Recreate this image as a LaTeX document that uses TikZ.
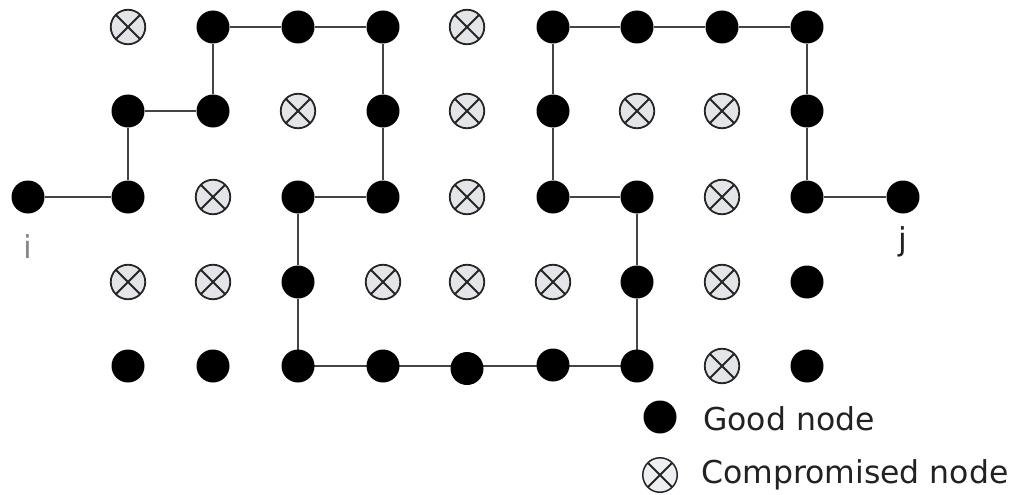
\documentclass[tikz,border=0pt]{standalone}
\usepackage{fontspec}
\setmainfont{DejaVu Sans}
\usetikzlibrary{backgrounds}
\definecolor{edgecol}{HTML}{444444}
\definecolor{xfill}{HTML}{E3E5E9}
\definecolor{lblgray}{HTML}{888888}
\definecolor{txtcol}{HTML}{222222}
\begin{document}
\begin{tikzpicture}[x=1pt,y=-1pt,
  good/.style={circle,fill=black,draw=none,minimum size=33pt,inner sep=0pt},
  bad/.style={circle,fill=xfill,draw=black!85,line width=1.8pt,minimum size=34.5pt,inner sep=0pt,
    path picture={\draw[black!85,line width=1.8pt]
      (path picture bounding box.north west) -- (path picture bounding box.south east)
      (path picture bounding box.north east) -- (path picture bounding box.south west);}},
  link/.style={draw=edgecol,line width=2.5pt},
  lbl/.style={font=\fontsize{31.5}{38}\selectfont,inner sep=0pt}]
\useasboundingbox (0,0) rectangle (1018,495);
% row 1
\node[bad]  (a1) at (128,27) {};
\node[good] (b1) at (213,27) {};
\node[good] (c1) at (298,27) {};
\node[good] (d1) at (383,27) {};
\node[bad]  (e1) at (467,27) {};
\node[good] (f1) at (553,27) {};
\node[good] (g1) at (637,27) {};
\node[good] (h1) at (722,27) {};
\node[good] (k1) at (807,27) {};
% row 2
\node[good] (a2) at (128,111) {};
\node[good] (b2) at (213,111) {};
\node[bad]  (c2) at (298,111) {};
\node[good] (d2) at (383,111) {};
\node[bad]  (e2) at (467,111) {};
\node[good] (f2) at (553,111) {};
\node[bad]  (g2) at (637,111) {};
\node[bad]  (h2) at (722,111) {};
\node[good] (k2) at (807,111) {};
% row 3
\node[good] (ni) at (28,197) {};
\node[good] (a3) at (128,197) {};
\node[bad]  (b3) at (213,197) {};
\node[good] (c3) at (298,197) {};
\node[good] (d3) at (383,197) {};
\node[bad]  (e3) at (467,197) {};
\node[good] (f3) at (553,197) {};
\node[good] (g3) at (637,197) {};
\node[bad]  (h3) at (722,197) {};
\node[good] (k3) at (807,197) {};
\node[good] (nj) at (903,197) {};
% row 4
\node[bad]  (a4) at (128,282) {};
\node[bad]  (b4) at (213,282) {};
\node[good] (c4) at (298,282) {};
\node[bad]  (d4) at (383,282) {};
\node[bad]  (e4) at (467,282) {};
\node[bad]  (f4) at (553,282) {};
\node[good] (g4) at (637,282) {};
\node[bad]  (h4) at (722,282) {};
\node[good] (k4) at (807,282) {};
% row 5
\node[good] (a5) at (128,366) {};
\node[good] (b5) at (213,366) {};
\node[good] (c5) at (298,366) {};
\node[good] (d5) at (383,366) {};
\node[good] (e5) at (467,368.5) {};
\node[good] (f5) at (553,365) {};
\node[good] (g5) at (637,366) {};
\node[bad]  (h5) at (722,366) {};
\node[good] (k5) at (807,366) {};
% path
\begin{scope}[on background layer]
\draw[link] (ni) -- (a3) -- (a2) -- (b2) -- (b1) -- (c1) -- (d1) -- (d2) -- (d3) -- (c3)
  -- (c4) -- (c5.center) -- (g5.center) -- (g4) -- (g3) -- (f3) -- (f2) -- (f1)
  -- (g1) -- (h1) -- (k1) -- (k2) -- (k3) -- (nj);
\end{scope}
% labels
\node[lbl,text=lblgray,anchor=base] (li) at (28,258) {i};
\node[lbl,text=txtcol,anchor=base] (lj) at (903,250) {j};
% legend
\node[good] (lg) at (660,417) {};
\node[bad,line width=1.5pt,fill=xfill!60] (lx) at (660,475) {};
\node[lbl,text=txtcol,anchor=base west] (tg) at (703,430) {Good node};
\node[lbl,text=txtcol,anchor=base west] (tx) at (701,483) {Compromised node};
\end{tikzpicture}
\end{document}
